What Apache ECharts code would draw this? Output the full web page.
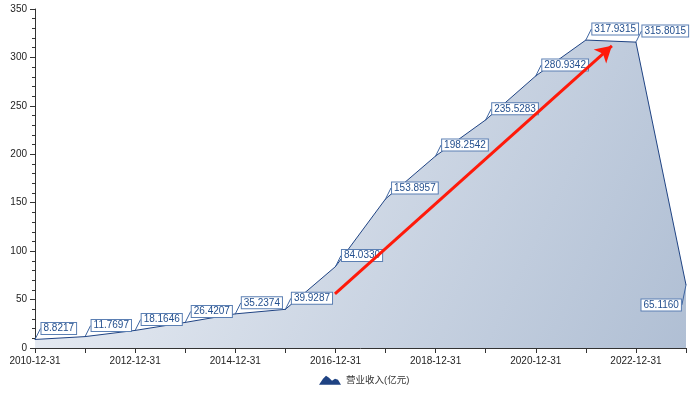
<!DOCTYPE html>
<html>
<head>
<meta charset="utf-8">
<script src="https://cdn.jsdelivr.net/npm/echarts@6/dist/echarts.min.js"></script>
<style>
  html, body { margin: 0; padding: 0; background: #fff; }
  #main { width: 700px; height: 398px; }
</style>
</head>
<body>
<div id="main"></div>
<script>
const dates = [
  "2010-12-31", "2011-12-31", "2012-12-31", "2013-12-31", "2014-12-31",
  "2015-12-31", "2016-12-31", "2017-12-31", "2018-12-31", "2019-12-31",
  "2020-12-31", "2021-12-31", "2022-12-31", "2023-03-31",
];
const revenue = [
  8.8217, 11.7697, 18.1646, 26.4207, 35.2374, 39.9287, 84.033,
  153.8957, 198.2542, 235.5283, 280.9342, 317.9315, 315.8015, 65.116,
];
const seriesName = "营业收入(亿元)";
// red annotation arrow, [category position, value]
const arrowFrom = [5.99, 56];
const arrowTo = [11.52, 312];

const chart = echarts.init(document.getElementById("main"));
const lastIdx = revenue.length - 1;

chart.setOption({
  animation: false,
  textStyle: { fontFamily: "Liberation Sans, Noto Sans CJK SC, sans-serif" },
  grid: { left: 35, right: 14, top: 9, bottom: 50 },
  legend: {
    bottom: 8,
    left: 314,
    itemWidth: 22,
    itemHeight: 10,
    itemGap: 8,
    icon: "path://M0,10 L4,4 L7,1 L10,3 L13,6 L16,4 L19,5 L22,10 Z",
    textStyle: { fontSize: 9.5, color: "#333" },
    data: [seriesName],
  },
  xAxis: [
    {
      type: "category",
      data: dates,
      boundaryGap: false,
      axisLine: { lineStyle: { color: "#333" } },
      axisTick: { alignWithLabel: true, interval: 0, length: 5 },
      axisLabel: { interval: 1, fontSize: 10, color: "#222", margin: 8 },
    },
    {
      type: "value",
      min: 0,
      max: dates.length - 1,
      show: false,
    },
  ],
  yAxis: [
    {
      type: "value",
      min: 0,
      max: 350,
      interval: 50,
      splitLine: { show: false },
      axisLine: { show: true, lineStyle: { color: "#333" } },
      axisTick: { show: true, length: 5 },
      minorTick: { show: true, splitNumber: 5, length: 3, lineStyle: { color: "#333" } },
      axisLabel: { fontSize: 10, color: "#222" },
    },
  ],
  series: [
    {
      name: seriesName,
      type: "line",
      data: revenue,
      symbol: "circle",
      symbolSize: 1,
      showSymbol: true,
      itemStyle: { color: "#1f4383" },
      lineStyle: { color: "#1f4383", width: 1 },
      areaStyle: {
        opacity: 1,
        color: new echarts.graphic.LinearGradient(0, 0, 1, 1, [
          { offset: 0, color: "#eff2f7" },
          { offset: 1, color: "#b0bfd4" },
        ]),
      },
      label: {
        show: true,
        position: "right",
        distance: 6,
        fontSize: 10,
        color: "#24508f",
        backgroundColor: "#fff",
        borderColor: "#5b7fb3",
        borderWidth: 1,
        padding: [1, 2, 0, 2],
        formatter: (p) => p.value.toFixed(4),
      },
      labelLine: { show: true, lineStyle: { color: "#3d64a0", width: 1 } },
      labelLayout: (params) => {
        if (params.dataIndex === lastIdx) {
          return { x: params.rect.x - 44, y: params.rect.y + 15 };
        }
        return { dy: -11 };
      },
    },
    {
      type: "line",
      xAxisIndex: 1,
      data: [],
      markLine: {
        silent: true,
        symbol: ["none", "arrow"],
        symbolSize: [14, 16],
        label: { show: false },
        lineStyle: { color: "#ff1a0a", width: 3, type: "solid" },
        data: [[{ coord: arrowFrom }, { coord: arrowTo }]],
      },
    },
  ],
});
</script>
</body>
</html>
